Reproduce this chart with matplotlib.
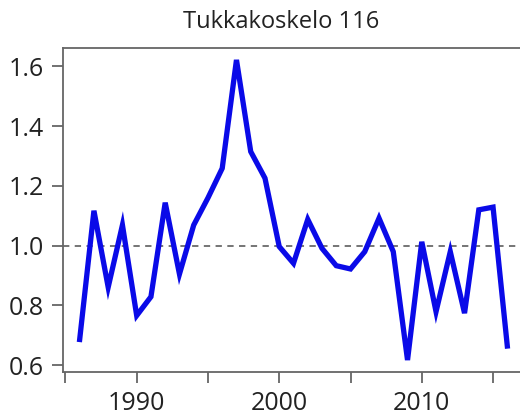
import matplotlib
matplotlib.use('Agg')
import matplotlib.pyplot as plt

# Yearly index values
years = list(range(1986, 2017))
index_values = [0.686, 1.117, 0.861, 1.069, 0.766, 0.829, 1.144, 0.905, 1.069, 1.160,
                1.259, 1.622, 1.315, 1.226, 0.997, 0.941, 1.088, 0.991, 0.933, 0.922,
                0.980, 1.092, 0.980, 0.617, 1.013, 0.779, 0.980, 0.774, 1.120, 1.129,
                0.664]
title_text = "Tukkakoskelo 116"
y_ticks = [0.6, 0.8, 1.0, 1.2, 1.4, 1.6]
x_ticks = [1985, 1990, 1995, 2000, 2005, 2010, 2015]
x_labels = ["", "1990", "", "2000", "", "2010", ""]

plt.rcParams['font.family'] = ['Open Sans', 'DejaVu Sans']

fig = plt.figure(figsize=(5.2, 4.17), dpi=100)
ax = fig.add_axes([0.1217, 0.1086, 0.895, 0.7764])

ax.axhline(1.0, color="#6a6a6a", linestyle=(0, (3.5, 3)), linewidth=1.3, zorder=1)
ax.plot(years, index_values, color="#0a0ae8", linewidth=3.8, solid_joinstyle="miter", zorder=2)

ax.set_xlim(1984.85, 2017.5)
ax.set_ylim(0.578, 1.662)
ax.set_yticks(y_ticks)
ax.set_yticklabels([f"{v:.1f}" for v in y_ticks])
ax.set_xticks(x_ticks)
ax.set_xticklabels(x_labels)

for side in ["left", "bottom", "top", "right"]:
    ax.spines[side].set_color("#666666")
    ax.spines[side].set_linewidth(1.3)

ax.tick_params(axis="both", direction="out", length=8, width=1.3, color="#666666",
               labelsize=18, labelcolor="#222222")
ax.tick_params(axis="y", pad=6)
ax.tick_params(axis="x", pad=6)

fig.text(0.541, 0.948, title_text, ha="center", va="center", fontsize=17, color="#222222")

fig.savefig("out.png", dpi=100)
